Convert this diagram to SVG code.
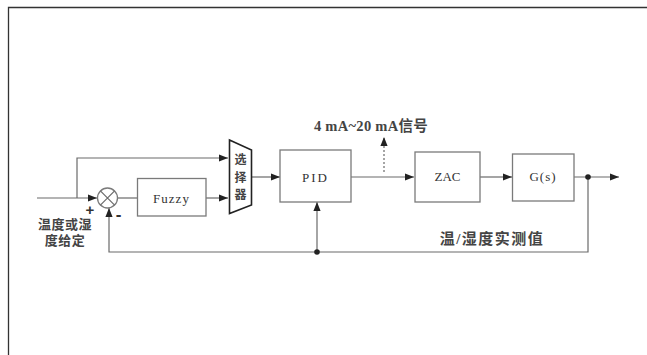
<svg xmlns="http://www.w3.org/2000/svg" width="647" height="355" viewBox="0 0 647 355">
<style>
.ln{fill:none;stroke:#6a6a6a;stroke-width:1.2}
.bx{fill:#fff;stroke:#7a7a7a;stroke-width:1.3}
.t{font-family:"Liberation Serif","Noto Sans CJK SC",serif;fill:#333;text-anchor:middle}
.c{font-family:"Liberation Serif","Noto Sans CJK SC",serif;fill:#444;text-anchor:middle;font-weight:bold}
</style>
<defs>
<marker id="ar" viewBox="0 0 10 10" refX="10" refY="5" markerWidth="9" markerHeight="9" markerUnits="userSpaceOnUse" orient="auto">
<path d="M0,1 L10,5 L0,9 Z" fill="#222"/>
</marker>
</defs>
<rect width="647" height="355" fill="#fff"/>
<path d="M8.5,355 V7.5 H647" fill="none" stroke="#333" stroke-width="1.3"/>

<g id="connectors">
<path class="ln" d="M37,198 H97" marker-end="url(#ar)"/>
<path class="ln" d="M77,198 V158 H228" marker-end="url(#ar)"/>
<path class="ln" d="M117.5,198 H137"/>
<path class="ln" d="M206,198 H228" marker-end="url(#ar)"/>
<path class="ln" d="M252,177 H280" marker-end="url(#ar)"/>
<path class="ln" d="M351,177 H414" marker-end="url(#ar)"/>
<path class="ln" d="M384,172 V137" stroke-dasharray="2,2" marker-end="url(#ar)"/>
<path class="ln" d="M480,177 H512" marker-end="url(#ar)"/>
<path class="ln" d="M574,177 H619" marker-end="url(#ar)"/>
<path class="ln" d="M588,177 V252 H109 V208" marker-end="url(#ar)"/>
<path class="ln" d="M317,252 V202" marker-end="url(#ar)"/>
<circle cx="588" cy="177" r="2.8" fill="#222"/>
<circle cx="317" cy="252" r="2.8" fill="#222"/>
</g>

<g id="sum">
<circle cx="107.5" cy="198" r="10" class="bx"/>
<path class="ln" d="M100.4,190.9 L114.6,205.1 M114.6,190.9 L100.4,205.1"/>
<text x="90" y="215" class="t" font-weight="bold" font-family="Liberation Sans, sans-serif" font-size="15" style="font-family:'Liberation Sans',sans-serif">+</text>
<text x="118.5" y="220" class="t" font-weight="bold" font-size="17" style="font-family:'Liberation Sans',sans-serif">-</text>
</g>

<g id="setpoint">
<text x="65" y="229" class="c" font-size="13" letter-spacing="0.5">温度或湿</text>
<text x="65" y="245" class="c" font-size="13" letter-spacing="0.5">度给定</text>
</g>

<g id="fuzzy">
<rect x="137.5" y="178.5" width="68.5" height="37.5" class="bx"/>
<text x="171.5" y="203" class="t" font-size="13" letter-spacing="1">Fuzzy</text>
</g>

<g id="selector">
<path d="M229.5,140 L251.5,150 L251.5,205 L229.5,213.5 Z" fill="#fff" stroke="#222" stroke-width="1.6"/>
<text x="240.5" y="164" class="c" font-size="12">选</text>
<text x="240.5" y="181.5" class="c" font-size="12">择</text>
<text x="240.5" y="199" class="c" font-size="12">器</text>
</g>

<g id="pid">
<rect x="280" y="150" width="71" height="52" class="bx"/>
<text x="315.5" y="182" class="t" font-size="13" letter-spacing="2">PID</text>
</g>

<g id="signal">
<text x="371" y="131" class="c" font-size="14.5" letter-spacing="0.3">4 mA~20 mA信号</text>
</g>

<g id="zac">
<rect x="415" y="152" width="65" height="50" class="bx"/>
<text x="447.5" y="181" class="t" font-size="13">ZAC</text>
</g>

<g id="gs">
<rect x="512.5" y="154" width="61.5" height="47" class="bx"/>
<text x="543" y="181" class="t" font-size="13" letter-spacing="1">G(s)</text>
</g>

<g id="measured">
<text x="492" y="244" class="c" font-size="15" letter-spacing="1.5">温/湿度实测值</text>
</g>
</svg>
